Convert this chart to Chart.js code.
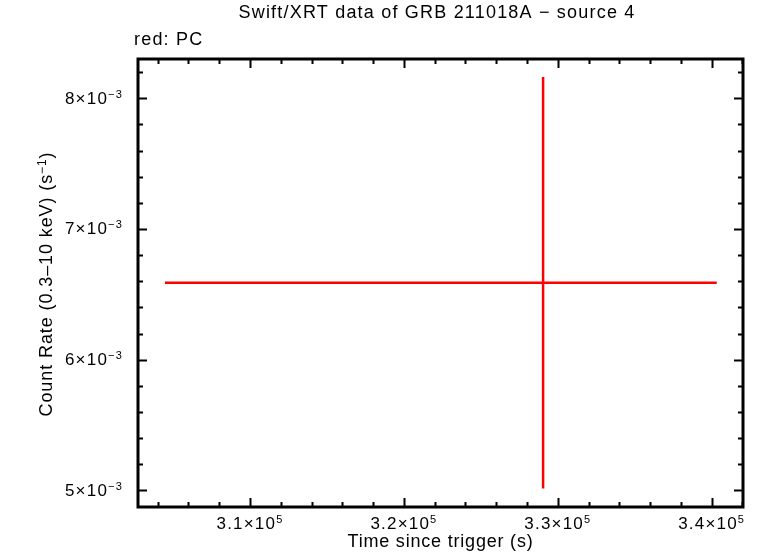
<!DOCTYPE html>
<html>
<head>
<meta charset="utf-8">
<script src="https://cdn.jsdelivr.net/npm/chart.js@4"></script>
<style>
  html, body { margin: 0; padding: 0; background: #fff; }
  #wrap { width: 761px; height: 558px; }
</style>
</head>
<body>
<div id="wrap"><canvas id="lc" width="761" height="558"></canvas></div>
<script>
// Light curve data (PC mode)
const times = [329045];
const timeErrNeg = [24568];
const timeErrPos = [11280];
const rates = [0.006588];
const rateErrNeg = [0.001573];
const rateErrPos = [0.001575];

// Axis ticks
const xMajorTicks = [310000, 320000, 330000, 340000];
const xMajorLabels = [['3.1×10', '5'], ['3.2×10', '5'], ['3.3×10', '5'], ['3.4×10', '5']];
const yMajorTicks = [0.005, 0.006, 0.007, 0.008];
const yMajorLabels = [['5×10', '−3'], ['6×10', '−3'], ['7×10', '−3'], ['8×10', '−3']];
const xMinorStep = 2000;
const yMinorStep = 0.0002;

const FONT = '"Liberation Sans", Arial, Helvetica, sans-serif';

// error bars as line segments
const hBars = times.map((t, i) => ({
    data: [{ x: t - timeErrNeg[i], y: rates[i] }, { x: t + timeErrPos[i], y: rates[i] }]
}));
const vBars = times.map((t, i) => ({
    data: [{ x: t, y: rates[i] - rateErrNeg[i] }, { x: t, y: rates[i] + rateErrPos[i] }]
}));
const datasets = hBars.concat(vBars).map(d => ({
    data: d.data,
    showLine: true,
    borderColor: '#ff0000',
    borderWidth: 2.5,
    pointRadius: 0,
    fill: false
}));

// draw text with a superscript part and an optional tail
function drawSup(ctx, base, sup, tail, x, y, align, size, supSize, spacing) {
    ctx.letterSpacing = spacing + 'px';
    ctx.font = size + 'px ' + FONT;
    const w1 = ctx.measureText(base).width;
    const w3 = tail ? ctx.measureText(tail).width : 0;
    ctx.font = supSize + 'px ' + FONT;
    const w2 = ctx.measureText(sup).width;
    const total = w1 + w2 + w3;
    let x0 = x;
    if (align === 'center') x0 = x - total / 2;
    if (align === 'right') x0 = x - total;
    ctx.textAlign = 'left';
    ctx.font = size + 'px ' + FONT;
    ctx.fillText(base, x0, y);
    if (tail) ctx.fillText(tail, x0 + w1 + w2, y);
    ctx.font = supSize + 'px ' + FONT;
    ctx.fillText(sup, x0 + w1, y - 6);
}

const framePlugin = {
    id: 'frame',
    afterDraw(chart) {
        const ctx = chart.ctx;
        const a = chart.chartArea;
        const xs = chart.scales.x;
        const ys = chart.scales.y;
        ctx.save();
        ctx.fillStyle = '#000';
        ctx.strokeStyle = '#000';

        // ticks on all four sides
        ctx.lineWidth = 2;
        const tick = (px, len, vertical) => {
            ctx.beginPath();
            if (vertical) {
                ctx.moveTo(px, a.bottom); ctx.lineTo(px, a.bottom - len);
                ctx.moveTo(px, a.top); ctx.lineTo(px, a.top + len);
            } else {
                ctx.moveTo(a.left, px); ctx.lineTo(a.left + len, px);
                ctx.moveTo(a.right, px); ctx.lineTo(a.right - len, px);
            }
            ctx.stroke();
        };
        for (let v = Math.ceil(xs.min / xMinorStep) * xMinorStep; v <= xs.max; v += xMinorStep) {
            const major = xMajorTicks.some(m => Math.abs(m - v) < 1);
            tick(Math.round(xs.getPixelForValue(v)) + 0.5, major ? 9 : 5, true);
        }
        for (let k = Math.ceil(ys.min / yMinorStep); k * yMinorStep <= ys.max; k++) {
            const v = k * yMinorStep;
            const major = yMajorTicks.some(m => Math.abs(m - v) < 1e-9);
            tick(Math.round(ys.getPixelForValue(v)) + 0.5, major ? 9 : 5, false);
        }

        // frame
        ctx.lineWidth = 3;
        ctx.strokeRect(a.left, a.top, a.right - a.left, a.bottom - a.top);

        // tick labels
        ctx.textBaseline = 'alphabetic';
        xMajorTicks.forEach((v, i) => {
            const px = xs.getPixelForValue(v);
            drawSup(ctx, xMajorLabels[i][0], xMajorLabels[i][1], '', px, a.bottom + 21.5, 'center', 17, 11, 1.2);
        });
        yMajorTicks.forEach((v, i) => {
            const py = ys.getPixelForValue(v);
            drawSup(ctx, yMajorLabels[i][0], yMajorLabels[i][1], '', a.left - 15, py + 5.5, 'right', 17, 11, 1.2);
        });

        // title, mode note, axis titles
        ctx.letterSpacing = '1.2px';
        ctx.font = '18px ' + FONT;
        ctx.textAlign = 'center';
        ctx.fillText('Swift/XRT data of GRB 211018A − source 4', 437, 18);
        ctx.textAlign = 'left';
        ctx.fillText('red: PC', 134, 45);

        ctx.letterSpacing = '0.8px';
        ctx.textAlign = 'center';
        ctx.fillText('Time since trigger (s)', (a.left + a.right) / 2, 547);

        ctx.translate(52, 284);
        ctx.rotate(-Math.PI / 2);
        drawSup(ctx, 'Count Rate (0.3–10 keV) (s', '−1', ')', 0, 0, 'center', 18, 12, 0.9);
        ctx.restore();
    }
};

const chart = new Chart(document.getElementById('lc').getContext('2d'), {
    type: 'scatter',
    data: { datasets: datasets },
    options: {
        responsive: false,
        animation: false,
        layout: { padding: { left: 138, right: 18, top: 59, bottom: 51 } },
        plugins: {
            legend: { display: false },
            tooltip: { enabled: false }
        },
        scales: {
            x: { type: 'linear', min: 302723, max: 342034, display: false },
            y: { type: 'linear', min: 0.004873, max: 0.0083, display: false }
        }
    },
    plugins: [framePlugin]
});
</script>
</body>
</html>
